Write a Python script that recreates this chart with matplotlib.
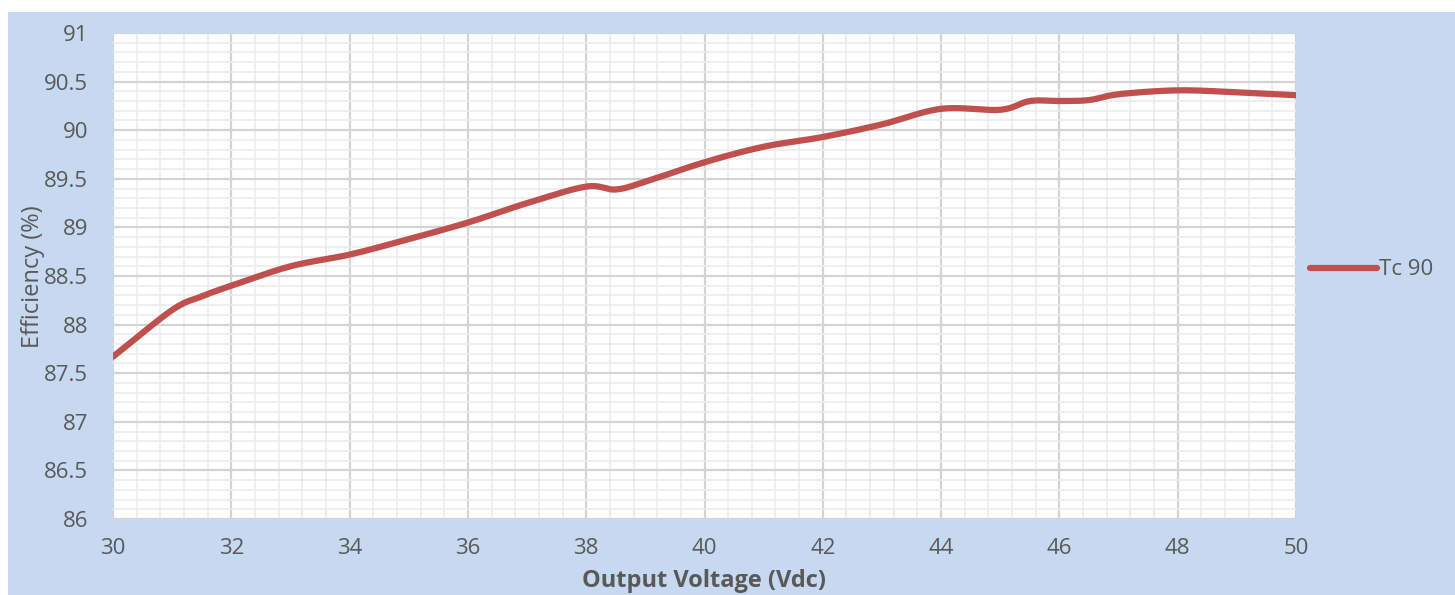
import matplotlib.pyplot as plt
from matplotlib.patches import Rectangle
from matplotlib.ticker import MultipleLocator
import numpy as np

# values
voltage = [30, 31, 31.5, 32, 33, 34, 35, 36, 37, 38, 38.5, 39, 40, 41, 42, 43,
           44, 45, 45.5, 46, 46.5, 47, 48, 49, 50]
efficiency = [87.67, 88.15, 88.29, 88.40, 88.60, 88.72, 88.88, 89.05, 89.25, 89.42,
              89.39, 89.47, 89.67, 89.83, 89.93, 90.06, 90.22, 90.21, 90.30, 90.30,
              90.31, 90.37, 90.41, 90.39, 90.36]
series_name = 'Tc 90'
x_ticks = list(range(30, 51, 2))
y_ticks = [86, 86.5, 87, 87.5, 88, 88.5, 89, 89.5, 90, 90.5, 91]


def smooth(xs, ys, n=20):
    # catmull-rom curve through the points, like a spreadsheet "smoothed line"
    xs = np.asarray(xs, float)
    ys = np.asarray(ys, float)
    px = np.concatenate([[2 * xs[0] - xs[1]], xs, [2 * xs[-1] - xs[-2]]])
    py = np.concatenate([[2 * ys[0] - ys[1]], ys, [2 * ys[-1] - ys[-2]]])
    outx, outy = [], []
    for i in range(1, len(px) - 2):
        t = np.linspace(0, 1, n, endpoint=False)
        for p, out in ((px, outx), (py, outy)):
            p0, p1, p2, p3 = p[i - 1], p[i], p[i + 1], p[i + 2]
            out.extend(0.5 * ((2 * p1) + (-p0 + p2) * t
                              + (2 * p0 - 5 * p1 + 4 * p2 - p3) * t ** 2
                              + (-p0 + 3 * p1 - 3 * p2 + p3) * t ** 3))
    outx.append(xs[-1])
    outy.append(ys[-1])
    return outx, outy


blue = '#c6d9f0'
gray = '#595959'
red = '#c0504d'

plt.rcParams['font.family'] = ['Open Sans', 'DejaVu Sans']

fig = plt.figure(figsize=(14.55, 5.95), dpi=100, facecolor='white')
fig.patches.append(Rectangle((8 / 1455, 0), 1, 1 - 12 / 595, transform=fig.transFigure,
                             facecolor=blue, edgecolor='none', zorder=-10))

ax = fig.add_axes([113 / 1455, 76 / 595, (1296 - 113) / 1455, (519 - 33) / 595])
ax.set_facecolor('white')

sx, sy = smooth(voltage, efficiency)
ax.plot(sx, sy, color=red, lw=4.5, solid_capstyle='round', label=series_name, zorder=3)

ax.set_xlim(30, 50)
ax.set_ylim(86, 91)
ax.set_xticks(x_ticks)
ax.set_yticks(y_ticks)
ax.set_yticklabels([f'{v:g}' for v in y_ticks])
ax.xaxis.set_minor_locator(MultipleLocator(0.4))
ax.yaxis.set_minor_locator(MultipleLocator(0.1))
ax.grid(which='major', color='#d4d4d4', lw=1.6, zorder=1)
ax.grid(which='minor', color='#ececec', lw=1.2, zorder=0)
ax.set_axisbelow(True)
for s in ax.spines.values():
    s.set_visible(False)
ax.tick_params(which='both', length=0)
ax.tick_params(axis='y', pad=18, labelsize=16, labelcolor=gray)
ax.tick_params(axis='x', pad=14, labelsize=16, labelcolor=gray)

ax.set_xlabel('Output Voltage (Vdc)', fontsize=17, fontweight='bold', color=gray)
ax.xaxis.set_label_coords(0.5, (519 - 581) / 486)
ax.xaxis.label.set_va('center')
ax.set_ylabel('Efficiency (%)', fontsize=17, color=gray)
ax.yaxis.set_label_coords((33 - 113) / 1183, (519 - 277) / 486)
ax.yaxis.label.set_va('center')

fig.legend(loc='center left', bbox_to_anchor=(1290 / 1455, 1 - 270 / 595), frameon=False,
           fontsize=16, labelcolor=gray, handlelength=3.0, handletextpad=0.1)

fig.savefig('out.png', dpi=100, facecolor=fig.get_facecolor())
